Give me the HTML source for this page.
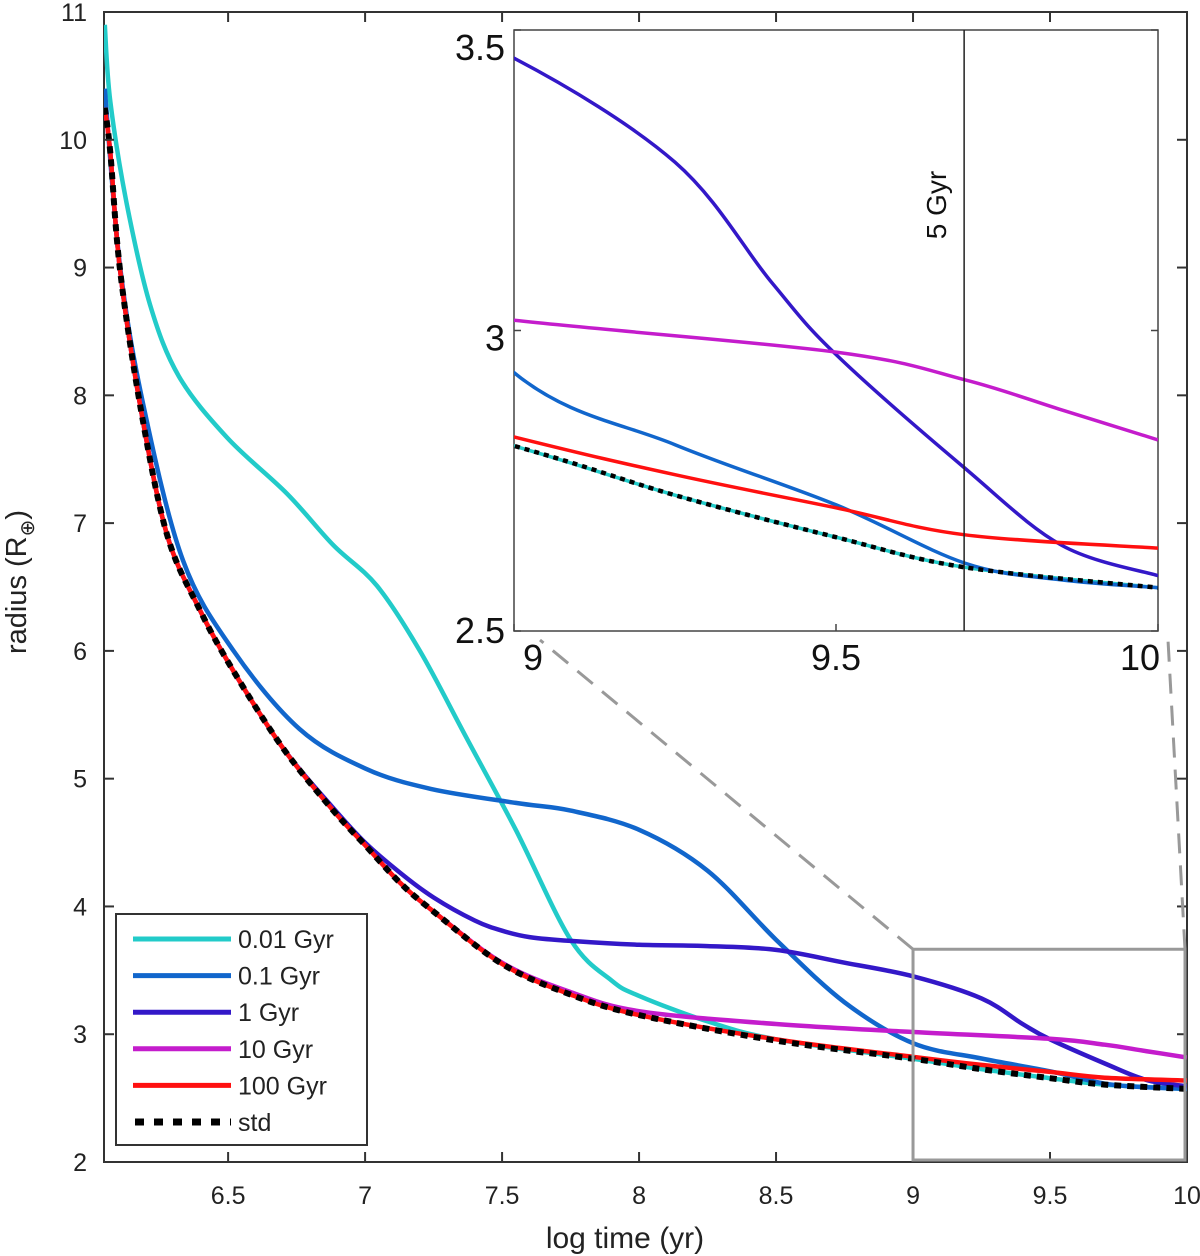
<!DOCTYPE html>
<html><head><meta charset="utf-8"><style>
html,body{margin:0;padding:0;background:#fff;}
svg{display:block;font-family:"Liberation Sans",sans-serif;}
</style></head><body>
<svg id="chart" width="1200" height="1256" viewBox="0 0 1200 1256" xmlns="http://www.w3.org/2000/svg"></svg>
<script>
// ---- data ----
const stdT = [6.05,6.07,6.105,6.18,6.277,6.397,6.52,6.7,6.88,7.0,7.13,7.25,7.5,7.75,8,8.5,9,9.25,9.5,9.7,10];
const stdV = [10.25,9.9,8.99,7.91,6.91,6.32,5.84,5.24,4.76,4.48,4.18,3.96,3.55,3.31,3.15,2.95,2.808,2.726,2.656,2.606,2.572];
const redT = [6.05,6.07,6.105,6.18,6.277,6.397,6.52,6.7,6.88,7.0,7.13,7.25,7.5,7.75,8,8.5,9,9.25,9.5,9.7,10];
const redV = [10.25,9.9,8.99,7.91,6.91,6.32,5.84,5.24,4.76,4.48,4.18,3.96,3.55,3.31,3.15,2.96,2.823,2.76,2.705,2.66,2.638];
const magT = [6.05,6.07,6.105,6.18,6.277,6.397,6.52,6.7,6.88,7.0,7.13,7.25,7.5,7.75,8,8.5,9,9.5,9.7,9.85,10];
const magV = [10.25,9.9,8.99,7.91,6.91,6.32,5.84,5.24,4.76,4.48,4.18,3.96,3.56,3.33,3.18,3.08,3.017,2.964,2.918,2.868,2.818];
const purT = [6.05,6.07,6.105,6.18,6.277,6.397,6.52,6.7,6.88,7,7.13,7.25,7.4,7.5,7.6,7.75,8,8.25,8.5,8.75,9,9.25,9.4,9.5,9.7,9.85,10];
const purV = [10.25,9.9,8.99,7.91,6.91,6.32,5.84,5.24,4.78,4.5,4.26,4.07,3.89,3.81,3.76,3.73,3.70,3.69,3.66,3.56,3.453,3.28,3.08,2.96,2.771,2.643,2.592];
const bluT = [6.05,6.105,6.19,6.335,6.52,6.76,7.0,7.24,7.55,7.75,8,8.25,8.5,8.75,9,9.25,9.5,9.7,9.85,10];
const bluV = [10.4,9.02,7.93,6.71,6.0,5.39,5.08,4.92,4.81,4.75,4.6,4.28,3.74,3.25,2.93,2.81,2.71,2.613,2.585,2.572];
const cyaT = [6.05,6.07,6.13,6.215,6.32,6.496,6.715,6.883,7.043,7.2,7.37,7.55,7.75,7.9,8,8.25,8.5,9,9.25,9.5,9.7,10];
const cyaV = [10.9,10.3,9.5,8.71,8.15,7.67,7.23,6.83,6.51,6.0,5.32,4.6,3.74,3.42,3.3,3.1,2.96,2.808,2.726,2.656,2.606,2.572];
const xTicks = [6.5,7,7.5,8,8.5,9,9.5,10];
const xTickLabels = ["6.5","7","7.5","8","8.5","9","9.5","10"];
const yTicks = [2,3,4,5,6,7,8,9,10,11];
const yTickLabels = ["2","3","4","5","6","7","8","9","10","11"];
const inXTicks = [9,9.5,10];
const inXTickLabels = ["9","9.5","10"];
const inYTicks = [2.5,3,3.5];
const inYTickLabels = ["2.5","3","3.5"];
const seriesNames = ["0.01 Gyr","0.1 Gyr","1 Gyr","10 Gyr","100 Gyr","std"];

const NS="http://www.w3.org/2000/svg";
const svg=document.getElementById('chart');
function mk(tag,attrs,parent){const e=document.createElementNS(NS,tag);for(const k in attrs)e.setAttribute(k,attrs[k]);(parent||svg).appendChild(e);return e;}

const M={l:104,r:1187,t:12,b:1162,x0:6.047,x1:10,y0:2,y1:11};
const X=t=>M.l+(t-M.x0)/(M.x1-M.x0)*(M.r-M.l);
const Y=v=>M.b-(v-M.y0)/(M.y1-M.y0)*(M.b-M.t);
const I={l:514,r:1158,t:30,b:631,x0:9,x1:10,y0:2.5,y1:3.5};
const IX=t=>I.l+(t-I.x0)/(I.x1-I.x0)*(I.r-I.l);
const IY=v=>I.b-(v-I.y0)/(I.y1-I.y0)*(I.b-I.t);

const defs=mk('defs',{});
const cm=mk('clipPath',{id:'cm'},defs);mk('rect',{x:M.l,y:M.t,width:M.r-M.l,height:M.b-M.t},cm);
const ci=mk('clipPath',{id:'ci'},defs);mk('rect',{x:I.l,y:I.t,width:I.r-I.l,height:I.b-I.t},ci);

const series=[
 {n:'series-0.01-gyr',T:cyaT,V:cyaV,c:'#22cbc9'},
 {n:'series-0.1-gyr',T:bluT,V:bluV,c:'#1166cc'},
 {n:'series-1-gyr',T:purT,V:purV,c:'#3318c8'},
 {n:'series-10-gyr',T:magT,V:magV,c:'#c41ccc'},
 {n:'series-100-gyr',T:redT,V:redV,c:'#ff1010'},
 {n:'series-std',T:stdT,V:stdV,c:'#000',dash:true}
];
function pathD(T,V,fx,fy){
 const P=T.map((t,i)=>[fx(t),fy(V[i])]);
 let d='M'+P[0][0].toFixed(1)+','+P[0][1].toFixed(1);
 for(let i=0;i<P.length-1;i++){
  const p0=P[Math.max(0,i-1)],p1=P[i],p2=P[i+1],p3=P[Math.min(P.length-1,i+2)];
  const c1=[p1[0]+(p2[0]-p0[0])/6,p1[1]+(p2[1]-p0[1])/6];
  const c2=[p2[0]-(p3[0]-p1[0])/6,p2[1]-(p3[1]-p1[1])/6];
  d+='C'+c1.map(v=>v.toFixed(1)).join(',')+' '+c2.map(v=>v.toFixed(1)).join(',')+' '+p2[0].toFixed(1)+','+p2[1].toFixed(1);
 }
 return d;
}

const mainBox=mk('rect',{x:M.l,y:M.t,width:M.r-M.l,height:M.b-M.t,fill:'none',stroke:'#333','stroke-width':2});



const gm=mk('g',{'clip-path':'url(#cm)'});


series.forEach(s=>{
 const p=mk('path',{d:pathD(s.T,s.V,X,Y),fill:'none',stroke:s.c,'stroke-width':s.dash?6:4.5,'stroke-linejoin':'round'},gm);
 if(s.dash)p.setAttribute('stroke-dasharray','7 6');
 
 
});

xTicks.forEach((t,i)=>{
 mk('line',{x1:X(t),x2:X(t),y1:M.b,y2:M.b-10,stroke:'#333','stroke-width':2});
 mk('line',{x1:X(t),x2:X(t),y1:M.t,y2:M.t+10,stroke:'#333','stroke-width':2});
 const tx=mk('text',{x:X(t),y:1204,'font-size':25,'text-anchor':'middle',fill:'#222'});
 tx.textContent=xTickLabels[i];
 
 
});
yTicks.forEach((v,i)=>{
 mk('line',{x1:M.l,x2:M.l+10,y1:Y(v),y2:Y(v),stroke:'#333','stroke-width':2});
 mk('line',{x1:M.r,x2:M.r-10,y1:Y(v),y2:Y(v),stroke:'#333','stroke-width':2});
 const tx=mk('text',{x:87,y:Y(v)+9,'font-size':25,'text-anchor':'end',fill:'#222'});
 tx.textContent=yTickLabels[i];
 
 
});
const xl=mk('text',{x:625,y:1248,'font-size':30,'text-anchor':'middle',fill:'#222'});
xl.textContent='log time (yr)';


const yl=mk('text',{x:0,y:0,'font-size':29,'text-anchor':'middle',fill:'#222',transform:'translate(26,582) rotate(-90)'});
yl.innerHTML='radius (R<tspan font-size="20" dy="8">⊕</tspan><tspan dy="-8">)</tspan>';



const zb=mk('rect',{x:X(9),y:Y(3.665),width:X(10)-X(9)-2,height:M.b-Y(3.665)-2,fill:'none',stroke:'#999','stroke-width':3});


const c1=mk('line',{x1:X(9),y1:Y(3.665),x2:540,y2:640,stroke:'#999','stroke-width':3,'stroke-dasharray':'20 12'});


const c2=mk('line',{x1:X(10)-2,y1:Y(3.665),x2:1168,y2:640,stroke:'#999','stroke-width':3,'stroke-dasharray':'20 12'});



const lg=mk('g',{});


mk('rect',{x:116,y:914,width:251,height:231,fill:'#fff',stroke:'#333','stroke-width':2},lg);
series.forEach((s,i)=>{
 const y=939+i*36.6;
 const g=mk('g',{},lg);
 
 
 const l=mk('line',{x1:133,x2:231,y1:y,y2:y,stroke:s.c,'stroke-width':s.dash?7:5},g);
 if(s.dash){l.setAttribute('stroke-dasharray','9 10');l.setAttribute('x1',135);}
 const t=mk('text',{x:238,y:y+9,'font-size':25,fill:'#222'},g);
 t.textContent=seriesNames[i];
});

const ib=mk('rect',{x:I.l,y:I.t,width:I.r-I.l,height:I.b-I.t,fill:'#fff',stroke:'#444','stroke-width':1.5});


const gi=mk('g',{'clip-path':'url(#ci)'});


series.forEach(s=>{
 const p=mk('path',{d:pathD(s.T,s.V,IX,IY),fill:'none',stroke:s.c,'stroke-width':s.dash?4.5:3.5,'stroke-linejoin':'round'},gi);
 if(s.dash)p.setAttribute('stroke-dasharray','5 5');
 
 
});
const gx=IX(Math.log10(5e9));
const vl=mk('line',{x1:gx,x2:gx,y1:I.t,y2:I.b,stroke:'#222','stroke-width':1.5});


const vt=mk('text',{x:0,y:0,'font-size':28,'text-anchor':'middle',fill:'#111',transform:`translate(${gx-18},205) rotate(-90)`});
vt.textContent='5 Gyr';


inXTicks.forEach((t,i)=>{
 mk('line',{x1:IX(t),x2:IX(t),y1:I.b,y2:I.b-7,stroke:'#444','stroke-width':1.5});
 const tx=mk('text',{x:IX(t)+(i==0?19:i==2?-18:0),y:670,'font-size':36,'text-anchor':'middle',fill:'#111'});
 tx.textContent=inXTickLabels[i];
 
 
});
inYTicks.forEach((v,i)=>{
 mk('line',{x1:I.l,x2:I.l+7,y1:IY(v),y2:IY(v),stroke:'#444','stroke-width':1.5});
 mk('line',{x1:I.r,x2:I.r-7,y1:IY(v),y2:IY(v),stroke:'#444','stroke-width':1.5});
 const tx=mk('text',{x:505,y:IY(v)+(i==2?30:i==0?12:20),'font-size':36,'text-anchor':'end',fill:'#111'});
 tx.textContent=inYTickLabels[i];
 
 
});
</script>
</body></html>
